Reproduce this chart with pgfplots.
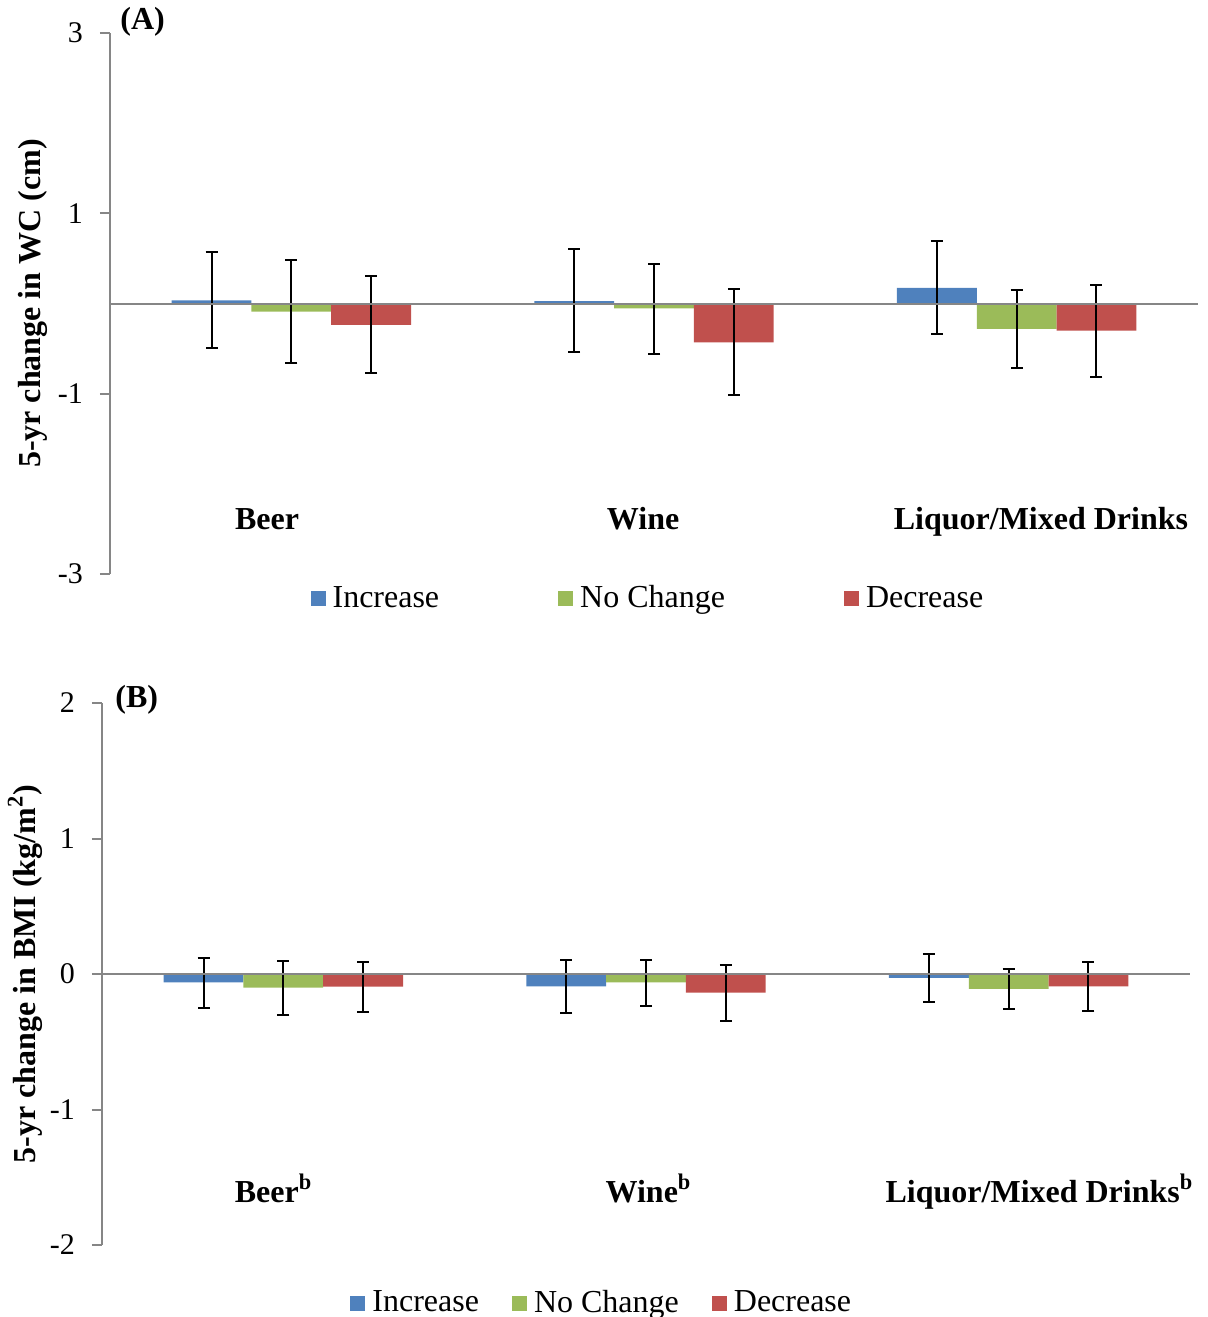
\documentclass[border=0pt]{standalone}
\usepackage{pgfplots}
\usepackage{pgfplotstable}
\pgfplotsset{compat=1.18}
\usepackage{fontspec}
\setmainfont{Liberation Serif}
\definecolor{cInc}{HTML}{4F81BD}
\definecolor{cNC}{HTML}{9BBB59}
\definecolor{cDec}{HTML}{C0504D}
\definecolor{axgray}{HTML}{868686}

% Panel A data: x mean err+ err-
\pgfplotstableread{
x y ep em
0 0.035 0.535 0.525
1 0.026 0.574 0.566
2 0.173 0.517 0.513
}\Ainc
\pgfplotstableread{
x y ep em
0 -0.090 0.570 0.570
1 -0.055 0.495 0.505
2 -0.280 0.430 0.440
}\Anc
\pgfplotstableread{
x y ep em
0 -0.238 0.538 0.532
1 -0.430 0.596 0.590
2 -0.300 0.510 0.520
}\Adec
% Panel B data
\pgfplotstableread{
x y ep em
0 -0.062 0.182 0.188
1 -0.091 0.191 0.199
2 -0.028 0.178 0.182
}\Binc
\pgfplotstableread{
x y ep em
0 -0.100 0.195 0.200
1 -0.062 0.168 0.172
2 -0.110 0.150 0.150
}\Bnc
\pgfplotstableread{
x y ep em
0 -0.093 0.183 0.187
1 -0.138 0.205 0.212
2 -0.092 0.177 0.178
}\Bdec

\tikzset{catlab/.style={anchor=base, font=\fontsize{16}{19}\selectfont\bfseries}}
\pgfplotsset{
  mybars/.style={
    scale only axis, width=544pt,
    xmin=-0.5, xmax=2.5,
    axis x line=middle, axis y line=left,
    axis line style={-, draw=axgray, line width=1pt},
    xtick=\empty,
    ytick style={draw=axgray, line width=1pt},
    major tick length=5pt, tick align=outside,
    /pgf/number format/assume math mode=true,
    yticklabel style={font=\fontsize{15}{18}\selectfont, xshift=-5pt},
    ylabel style={at={(axis description cs:-0.0708,0.5)}, anchor=center, rotate=0, font=\fontsize{16}{19}\selectfont\bfseries},
    ybar, bar width=0.22,
    axis on top,
    clip=false,
    legend columns=3,
    legend style={draw=none, fill=none, font=\fontsize{16}{19}\selectfont, inner sep=0pt, anchor=west, nodes={inner xsep=3.5pt, inner ysep=2pt}},
  },
  myleg/.style={legend image code/.code={\fill[##1] (0pt,-3.75pt) rectangle (7.5pt,3.75pt);}},
  myerr/.style={error bars/.cd, y dir=both, y explicit,
    error bar style={draw=black, line width=1pt},
    error mark options={draw=black, line width=1pt, mark size=3pt, rotate=90}},
}

\begin{document}
\begin{tikzpicture}
\useasboundingbox (0,0) rectangle (604pt,-658.5pt);
% ---------------- Panel A ----------------
\begin{axis}[mybars,
  at={(55pt,-287pt)}, anchor=south west, height=270.5pt,
  ymin=-3, ymax=3, ytick={-3,-1,1,3},
  ylabel={5-yr change in WC (cm)},
  legend style={at={(axis description cs:0.184,-0.0445)}, /tikz/every even column/.append style={column sep=56pt}},
]
\addplot[fill=cInc, draw=none, bar shift=-0.22, myleg, myerr] table[x=x, y=y, y error plus=ep, y error minus=em] {\Ainc};
\addplot[fill=cNC, draw=none, bar shift=0, myleg, myerr] table[x=x, y=y, y error plus=ep, y error minus=em] {\Anc};
\addplot[fill=cDec, draw=none, bar shift=0.22, myleg, myerr] table[x=x, y=y, y error plus=ep, y error minus=em] {\Adec};
\legend{Increase, No Change, Decrease}
\node[catlab] at (axis cs:-0.067,-2.511) {Beer};
\node[catlab] at (axis cs:0.97,-2.511) {Wine};
\node[catlab] at (axis cs:2.067,-2.511) {Liquor/Mixed Drinks};
\node[anchor=west, inner sep=0pt, font=\fontsize{16}{19}\selectfont\bfseries] at (axis description cs:0.0092,1.0203) {(A)};
\end{axis}
% ---------------- Panel B ----------------
\begin{axis}[mybars,
  at={(51pt,-622.5pt)}, anchor=south west, height=271pt,
  ymin=-2, ymax=2, ytick={-2,-1,0,1,2},
  ylabel={5-yr change in BMI (kg/m\textsuperscript{2})},
  legend style={at={(axis description cs:0.228,-0.107)}, /tikz/every even column/.append style={column sep=13pt}},
]
\addplot[fill=cInc, draw=none, bar shift=-0.22, myleg, myerr] table[x=x, y=y, y error plus=ep, y error minus=em] {\Binc};
\addplot[fill=cNC, draw=none, bar shift=0, myleg, myerr] table[x=x, y=y, y error plus=ep, y error minus=em] {\Bnc};
\addplot[fill=cDec, draw=none, bar shift=0.22, myleg, myerr] table[x=x, y=y, y error plus=ep, y error minus=em] {\Bdec};
\legend{Increase, No Change, Decrease}
\node[catlab] at (axis cs:-0.027,-1.686) {Beer\textsuperscript{b}};
\node[catlab] at (axis cs:1.007,-1.686) {Wine\textsuperscript{b}};
\node[catlab] at (axis cs:2.085,-1.686) {Liquor/Mixed Drinks\textsuperscript{b}};
\node[anchor=west, inner sep=0pt, font=\fontsize{16}{19}\selectfont\bfseries] at (axis description cs:0.012,1.0055) {(B)};
\end{axis}
\end{tikzpicture}
\end{document}
